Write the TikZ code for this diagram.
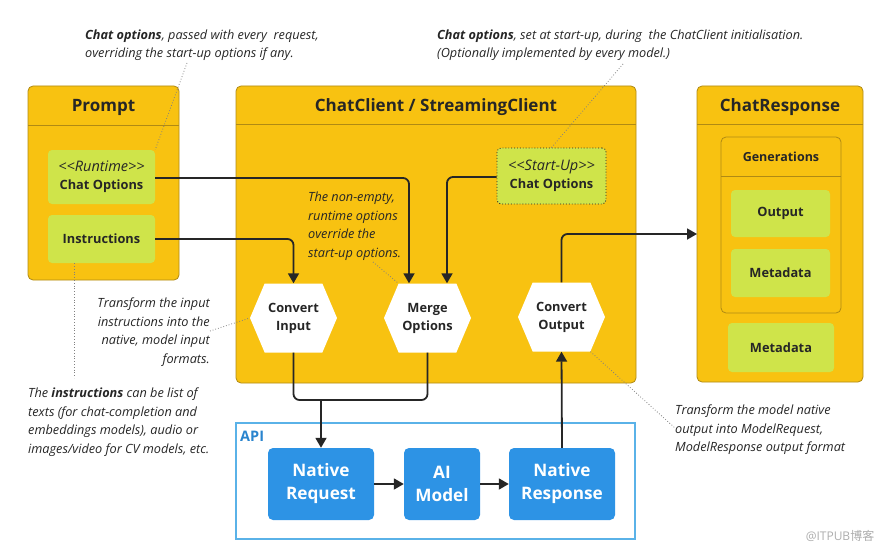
\documentclass[tikz,border=0pt]{standalone}
\usepackage{fontspec}
\setmainfont{Open Sans}
\newfontfamily\cjk{Noto Sans CJK SC}
\usetikzlibrary{arrows.meta,shapes.symbols}

\definecolor{boxyellow}{HTML}{F8C211}
\definecolor{boxedge}{HTML}{B08A14}
\definecolor{optgreen}{HTML}{CFE44A}
\definecolor{apiblue}{HTML}{2D93E5}
\definecolor{apiedge}{HTML}{5AB2E8}
\definecolor{inkdark}{HTML}{262626}

\newcommand{\stereo}[1]{{\mdseries\itshape\fontsize{14.5}{16}\selectfont <{}<#1>{}>}}

\tikzset{
	frame/.style={draw=boxedge, fill=boxyellow, rounded corners=5pt, line width=0.8pt},
	optbox/.style={fill=optgreen, rounded corners=4pt, text=inkdark, align=center, inner sep=0pt,
		font=\bfseries\fontsize{12.8}{15}\selectfont},
	hexa/.style={shape=signal, signal to=east and west, signal pointer angle=134, fill=white,
		minimum width=87pt, minimum height=69pt, inner sep=0pt, align=center, text=inkdark,
		font=\bfseries\fontsize{12.8}{18}\selectfont},
	apibox/.style={fill=apiblue, rounded corners=5pt, text=white, align=center, inner sep=0pt,
		font=\bfseries\fontsize{17.2}{23}\selectfont},
	link/.style={draw=inkdark, line width=1.8pt, rounded corners=6pt, -{Triangle[length=10pt,width=11pt]}},
	note/.style={font=\itshape\fontsize{12.7}{18.5}\selectfont, text=inkdark, inner sep=0pt},
	pointer/.style={draw=gray, dotted, line width=0.8pt},
	title/.style={font=\bfseries\fontsize{17}{19}\selectfont, text=inkdark},
}

\begin{document}
\begin{tikzpicture}[x=1pt, y=-1pt]
	\useasboundingbox (0,0) rectangle (889,551);
%	\draw[help lines] (0,0) grid[step=50] (889,551);

	% frames
	\draw[frame] (28,86) rectangle (179,280);
	\draw[boxedge, line width=0.8pt] (28,125) -- (179,125);
	\draw[frame] (236,86) rectangle (636,383);
	\draw[boxedge, line width=0.8pt] (236,124) -- (636,124);
	\draw[frame] (697,86) rectangle (863,382);
	\draw[boxedge, line width=0.8pt] (697,124) -- (863,124);
	\draw[boxedge, line width=0.8pt, rounded corners=5pt] (721,137) rectangle (841,313);
	\draw[boxedge, line width=0.8pt] (721,176) -- (841,176);
	\draw[apiedge, line width=1.2pt] (236,423) rectangle (635,539);

	% titles
	\path (103.5,107) node(prompt_title) [title] {Prompt};
	\path (436,107) node(client_title) [title] {ChatClient / StreamingClient};
	\path (780,107) node(resp_title) [title] {ChatResponse};
	\path (781,157) node(gen_title) [text=inkdark, font=\bfseries\fontsize{12.5}{14}\selectfont] {Generations};
	\path (240,436) node(api_title) [anchor=west, inner sep=0pt, text=apiblue!90!black,
		font=\bfseries\fontsize{14.5}{16}\selectfont] {API};

	% option boxes
	\path (101.5,177) node(run_opts) [optbox, minimum width=107pt, minimum height=54pt]
		{\stereo{Runtime}\\[3pt] Chat Options};
	\path (101.5,239) node(instr) [optbox, minimum width=107pt, minimum height=48pt] {Instructions};
	\path (551.5,176) node(start_opts) [optbox, minimum width=109pt, minimum height=56pt,
		draw=inkdark, dotted, line width=0.9pt] {\stereo{Start-Up}\\[3pt] Chat Options};
	\path (780.5,213.5) node(gen_out) [optbox, minimum width=99pt, minimum height=47pt] {Output};
	\path (780.5,273) node(gen_meta) [optbox, minimum width=99pt, minimum height=48pt] {Metadata};
	\path (781,347.5) node(resp_meta) [optbox, minimum width=106pt, minimum height=49pt] {Metadata};

	% processing steps
	\path (293.5,318) node(conv_in) [hexa] {Convert\\Input};
	\path (427.5,318) node(merge) [hexa] {Merge\\Options};
	\path (561.5,317) node(conv_out) [hexa] {Convert\\Output};

	% api
	\path (321,484) node(native_req) [apibox, minimum width=106pt, minimum height=72pt] {Native\\Request};
	\path (442,484) node(ai_model) [apibox, minimum width=76pt, minimum height=72pt] {AI\\Model};
	\path (562,484) node(native_resp) [apibox, minimum width=106pt, minimum height=72pt] {Native\\Response};

	% helper points
	\path (697,234) coordinate (resp_in);
	\path (321,400) coordinate (join);
	\path (409,178) coordinate (run_turn);
	\path (447,177) coordinate (start_turn);

	% connectors
	\draw[link] (run_opts.east |- run_turn) -| (run_turn |- merge.north);
	\draw[link] (instr.east) -| (conv_in.north);
	\draw[link] (start_opts.west |- start_turn) -| (start_turn |- merge.north);
	\draw[link] (conv_out.north) |- (resp_in);
	\draw[link, -] (conv_in.south) |- (join);
	\draw[link, -] (merge.south) |- (join);
	\draw[link] (join) -- (native_req.north);
	\draw[link] (native_req.east) -- (ai_model.west);
	\draw[link] (ai_model.east) -- (native_resp.west);
	\draw[link] (native_resp.north) -- (conv_out.south);

	% notes
	\path (85,45) node(note_run) [note, anchor=west, align=left]
		{\textbf{Chat options}, passed with every\ \ request,\\overriding the start-up options if any.};
	\path (437,45) node(note_start) [note, anchor=west, align=left]
		{\textbf{Chat options}, set at start-up, during\ \ the ChatClient initialisation.\\(Optionally implemented by every model.)};
	\path (308,226) node(note_merge) [note, anchor=west, align=left]
		{The non-empty,\\runtime options\\override the\\start-up options.};
	\path (210,332) node(note_in) [note, anchor=east, align=right]
		{Transform the input\\instructions into the\\native, model input\\formats.};
	\path (28,422) node(note_instr) [note, anchor=west, align=left]
		{The \textbf{instructions} can be list of\\texts (for chat-completion and\\embeddings models), audio or\\images/video for CV models, etc.};
	\path (675,430) node(note_out) [note, anchor=west, align=left]
		{Transform the model native\\output into ModelRequest,\\ModelResponse output format};

	% note pointers
	\path (187,63) coordinate (note_run_tip);
	\path (623,64) coordinate (note_start_tip);
	\path (373,262) coordinate (note_merge_tip);
	\path (210,331) coordinate (note_in_tip);
	\path (74,378) coordinate (note_instr_tip);
	\path (675,428) coordinate (note_out_tip);
	\draw[pointer] (note_run_tip) -- (run_opts.north east);
	\draw[pointer] (note_start_tip) -- (start_opts.north);
	\draw[pointer] (note_merge_tip) -- (merge.north west);
	\draw[pointer] (note_in_tip) -- (conv_in.west);
	\draw[pointer] (instr.south -| note_instr_tip) -- (note_instr_tip);
	\draw[pointer] (conv_out.south east) -- (note_out_tip);

	\path (840,536) node(mark) [text=black!32, font=\fontsize{12}{14}\selectfont] {@ITPUB{\cjk 博客}};
\end{tikzpicture}
\end{document}
